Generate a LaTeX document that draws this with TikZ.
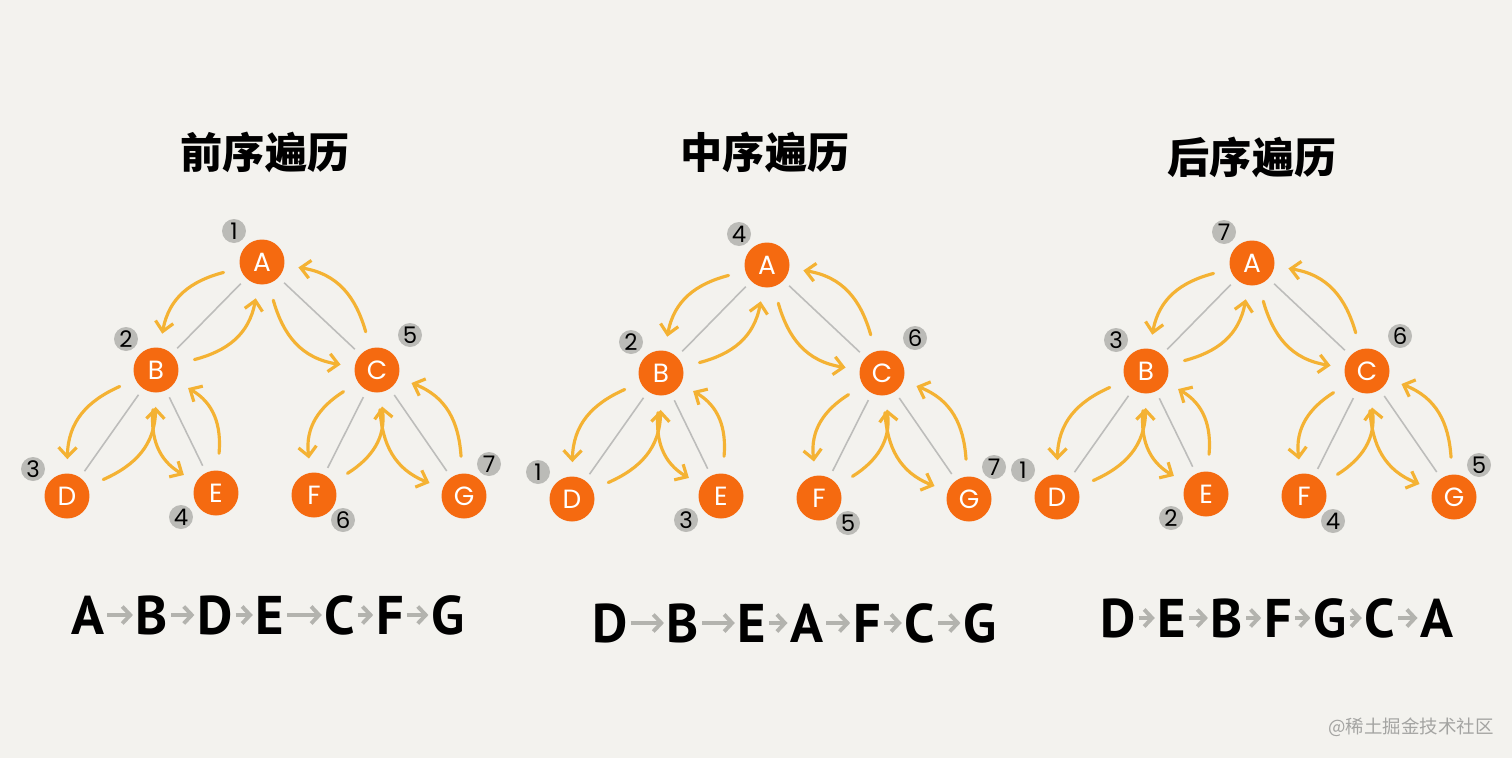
\documentclass[tikz,border=0pt]{standalone}
\usepackage{fontspec}
\setmainfont{Poppins}
\newfontfamily\seqfont{PT Sans}
\newfontfamily\cjk{Noto Sans CJK SC}
\usetikzlibrary{arrows.meta,calc}
\definecolor{bgpaper}{HTML}{F3F2EE}
\definecolor{nodeorange}{HTML}{F56A10}
\definecolor{walkyellow}{HTML}{F4B233}
\definecolor{edgegray}{HTML}{BDBDBB}
\definecolor{badgegray}{HTML}{BBBBB7}
\definecolor{seqgray}{HTML}{B3B3AE}
\definecolor{markgray}{HTML}{A4A4A2}

\begin{document}
\begin{tikzpicture}[x=0.02cm,y=-0.02cm,
 vert/.style={circle,fill=nodeorange,minimum size=0.9cm,inner sep=0pt,text=white,font=\fontsize{15}{15}\selectfont},
 badge/.style={circle,fill=badgegray,minimum size=0.48cm,inner sep=0pt,font=\fontsize{13}{13}\selectfont},
 tree/.style={draw=edgegray,line width=0.9pt,shorten <=0.15cm,shorten >=0.15cm},
 walk/.style={-{Straight Barb[length=1.9mm,width=3.6mm]},draw=walkyellow,line width=1.8pt,line cap=round,
  out=-30,in=215,relative,looseness=1.15,shorten <=0.34cm,shorten >=0.28cm},
 title/.style={font=\cjk\bfseries\fontsize{24}{24}\selectfont},
 seq/.style={font=\seqfont\bfseries\fontsize{31}{31}\selectfont,inner sep=1.5pt},
 seqar/.style={-{Straight Barb[length=1.6mm,width=3.4mm]},draw=seqgray,line width=2.2pt}]
\useasboundingbox (0,0) rectangle (1512,758);
\fill[bgpaper] (0,0) rectangle (1512,758);
% titles
\node[title] (pre) at (265,152) {前序遍历};
\node[title] (in) at (765,152) {中序遍历};
\node[title] (post) at (1252,157) {后序遍历};
% three trees, same shape, own visiting order
\foreach \t/\dx/\dy/\na/\nb/\nc/\nd/\ne/\nf/\ng in
 {1/0/0/1/2/5/3/4/6/7, 2/505/3/4/2/6/1/3/5/7, 3/990/1/7/3/6/1/2/4/5} {
 \begin{scope}[shift={(\dx,\dy)}]
 \node[vert] (A\t) at (262,262) {A};
 \node[vert] (B\t) at (156,370) {B};
 \node[vert] (C\t) at (377,370) {C};
 \node[vert] (D\t) at (67,496) {D};
 \node[vert] (E\t) at (216,493) {E};
 \node[vert] (F\t) at (314,495) {F};
 \node[vert] (G\t) at (464,496) {G};
 \foreach \p/\c in {A/B,B/D,B/E,A/C,C/F,C/G} {
  \draw[tree] (\p\t) -- (\c\t);
  \draw[walk] (\p\t) to (\c\t);
  \draw[walk] (\c\t) to (\p\t);
 }
 \node[badge] (nA\t) at ([shift={(-28,-31)}]A\t) {\na};
 \node[badge] (nB\t) at ([shift={(-30,-31)}]B\t) {\nb};
 \node[badge] (nC\t) at ([shift={(33,-35)}]C\t) {\nc};
 \node[badge] (nD\t) at ([shift={(-34,-27)}]D\t) {\nd};
 \node[badge] (nE\t) at ([shift={(-35,24)}]E\t) {\ne};
 \node[badge] (nF\t) at ([shift={(29,25)}]F\t) {\nf};
 \node[badge] (nG\t) at ([shift={(25,-32)}]G\t) {\ng};
 \end{scope}
}
% visiting sequences
\foreach \t/\y/\seqlist in
 {1/615/{A/88,B/152,D/215,E/270,C/340,F/390,G/448},
  2/623/{D/610,B/683,E/752,A/807,F/867,C/920,G/980},
  3/618/{D/1118,E/1172,B/1227,F/1278,G/1330,C/1380,A/1437}} {
 \foreach \l/\x [count=\i] in \seqlist
  \node[seq] (s\t\i) at (\x,\y) {\l};
 \foreach \i [evaluate=\i as \j using int(\i+1)] in {1,...,6}
  \draw[seqar] (s\t\i) -- (s\t\j);
}
\node[font=\cjk\fontsize{10.5}{10.5}\selectfont,text=markgray] (mark) at (1411,727) {@稀土掘金技术社区};
\end{tikzpicture}
\end{document}
